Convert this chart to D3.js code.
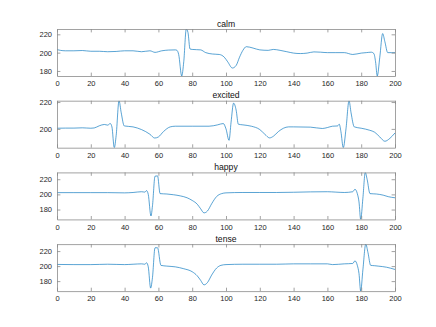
<!DOCTYPE html>
<html>
<head>
<meta charset="utf-8">
<script src="https://cdn.jsdelivr.net/npm/d3@7"></script>
<style>
  body { margin: 0; background: #fff; }
  svg { display: block; font-family: "Liberation Sans", Arial, sans-serif; }
  .tick text { fill: #262626; font-size: 7.5px; }
  .title { fill: #111; font-size: 8.6px; }
</style>
</head>
<body>
<div id="chart"></div>
<script>
// panel titles
var titles = ["calm", "excited", "happy", "tense"];

// x ticks shared by all panels
var xTicks = [0, 20, 40, 60, 80, 100, 120, 140, 160, 180, 200];

// y ticks per panel
var yTicks = [
    [180, 200, 220],
    [200, 220],
    [180, 200, 220],
    [180, 200, 220]
];

// calm
var calmX = [0, 2, 5, 10, 15, 20, 25, 30, 35, 40, 45, 50, 55, 58, 62, 66, 70, 71, 72, 73.8, 75, 76.5, 77.5, 78.7, 80, 85, 88, 92, 96, 99, 101, 103.8, 106, 108, 110, 112, 116, 120, 125, 128, 132, 136, 140, 144, 148, 152, 156, 160, 165, 170, 175, 180, 183, 186, 187.5, 188.5, 189.5, 191, 192.7, 194, 195.7, 198, 200];
var calmY = [203.3, 202.5, 202, 202, 202.3, 201.5, 201.5, 201, 201.3, 202, 202, 201, 202, 200.3, 202, 202.8, 203, 202.5, 198, 174.5, 190, 225.8, 222, 204, 203.5, 203, 200, 198.5, 198, 195, 190, 183.2, 186, 195, 202.5, 206.5, 205, 203, 202.5, 203.5, 202.5, 201, 199.5, 199, 199.5, 200.8, 200.5, 200, 200, 200, 198, 199.5, 200, 200.5, 199, 190, 174.5, 195, 220.8, 212, 200, 200, 200];

// excited
var excitedX = [0, 5, 10, 15, 20, 22, 25, 28, 30, 31.5, 32.5, 33.9, 35, 36.7, 38, 39.8, 45, 50, 55, 57.8, 60, 63, 67, 70, 80, 90, 95, 98.4, 100, 101.8, 103, 104.5, 106, 107.3, 110, 115, 120, 123, 125.8, 128, 131, 134, 137, 140, 150, 157, 160, 163, 166, 167, 168, 169.4, 171, 172.8, 174, 175.9, 180, 185, 188, 191, 194, 197, 200];
var excitedY = [200.5, 200.6, 200.6, 200.8, 200.5, 200.7, 202.3, 203.3, 202.8, 204, 201.5, 186, 195, 221, 212, 202.2, 201.5, 199.5, 196, 193.2, 194, 198, 201.5, 202, 202, 202, 203, 204, 200, 191.5, 205, 219.2, 214, 203.5, 203, 202, 199.5, 196, 193.3, 194.5, 198, 200.5, 201.5, 201.5, 201.3, 200.3, 201, 202, 202.2, 203.5, 198, 186, 200, 221, 212, 201.5, 200.5, 199, 197.5, 194, 190.8, 193, 197];

// happy
var happyX = [0, 10, 20, 30, 40, 45, 50, 52, 53, 54, 55.6, 56.5, 58, 59.5, 61, 65, 69, 73, 77, 80, 83, 85, 87, 89, 91.5, 94.5, 97.4, 100, 110, 120, 130, 140, 150, 160, 165, 170, 175, 176.3, 177.7, 178.7, 179.7, 181, 182.4, 183.5, 185.2, 189, 193, 196, 200];
var happyY = [202.3, 202.3, 202.3, 202.3, 202, 202.5, 203.5, 203, 205, 200, 171.5, 185, 224, 224.4, 201, 200.5, 199.5, 198, 195.5, 192, 187, 181, 175.6, 178, 187.6, 197.3, 201, 202, 202.5, 202.5, 202.5, 202.8, 203.3, 203.5, 203, 202.5, 203.5, 206.7, 201, 190, 167, 195, 229, 220, 201, 200.5, 199, 197, 195.5];

// tense
var tenseX = [0, 10, 20, 30, 40, 45, 50, 52, 53, 54, 55.4, 56.5, 58, 59.5, 61.5, 65, 70, 75, 80, 83, 85, 87, 89, 91.5, 94.5, 97, 100, 110, 120, 130, 140, 150, 160, 163, 170, 175, 176.3, 177.7, 178.7, 179.7, 181, 182.7, 184, 185.6, 188, 190, 195, 200];
var tenseY = [202.2, 202, 202, 202.5, 202, 202.5, 203, 202.5, 204.4, 199, 170.7, 185, 224.4, 224.4, 201, 200, 199, 196.5, 192.5, 187, 181, 175, 178, 188, 197.5, 201, 202, 202.5, 202.5, 202.5, 203, 203, 203, 202, 203, 203.5, 207, 201, 190, 166.7, 195, 229.3, 218, 201, 200.5, 200, 198.5, 195.5];

var seriesX = [calmX, excitedX, happyX, tenseX];
var seriesY = [calmY, excitedY, happyY, tenseY];

var W = 436, H = 327;
var margin = { left: 57, right: 41, top: 29 },
    plotW = W - margin.left - margin.right,
    plotH = 47,
    rowStep = 71.7,
    tickLen = 3.4;

var svg = d3.select("#chart").append("svg")
    .attr("width", W)
    .attr("height", H);

var x = d3.scaleLinear().domain([0, 200]).range([0, plotW]);

titles.forEach(function(name, i) {
    var xs = seriesX[i], ys = seriesY[i];
    var pts = xs.map(function(d, j) { return [d, ys[j]]; });

    // axis tight on the data
    var y = d3.scaleLinear().domain(d3.extent(ys)).range([plotH, 0]);

    var g = svg.append("g")
        .attr("transform", "translate(" + margin.left + "," + (margin.top + i * rowStep) + ")");

    g.append("clipPath")
        .attr("id", "clip" + i)
        .append("rect")
        .attr("width", plotW)
        .attr("height", plotH);

    g.append("path")
        .datum(pts)
        .attr("clip-path", "url(#clip" + i + ")")
        .attr("fill", "none")
        .attr("stroke", "#0072BD")
        .attr("stroke-width", 0.65)
        .attr("d", d3.line()
            .x(function(d) { return x(d[0]); })
            .y(function(d) { return y(d[1]); })
            .curve(d3.curveMonotoneX));

    // bottom + top axes, ticks inward
    var xb = g.append("g").attr("transform", "translate(0," + plotH + ")")
        .call(d3.axisBottom(x).tickValues(xTicks).tickSizeInner(-tickLen).tickSizeOuter(0).tickPadding(5));
    var xt = g.append("g")
        .call(d3.axisTop(x).tickValues(xTicks).tickSizeInner(-tickLen).tickSizeOuter(0).tickFormat(""));
    var yl = g.append("g")
        .call(d3.axisLeft(y).tickValues(yTicks[i]).tickSizeInner(-tickLen).tickSizeOuter(0).tickPadding(5));
    var yr = g.append("g").attr("transform", "translate(" + plotW + ",0)")
        .call(d3.axisRight(y).tickValues(yTicks[i]).tickSizeInner(-tickLen).tickSizeOuter(0).tickFormat(""));

    [xb, xt, yl, yr].forEach(function(a) {
        a.select(".domain").attr("stroke", "#8a8a8a").attr("stroke-width", 0.8);
        a.selectAll(".tick line").attr("stroke", "#8a8a8a").attr("stroke-width", 0.8);
        a.selectAll(".tick text").attr("font-family", null).attr("font-size", null);
    });

    g.append("text")
        .attr("class", "title")
        .attr("x", plotW / 2)
        .attr("y", -2.5)
        .attr("text-anchor", "middle")
        .text(name);
});
</script>
</body>
</html>
